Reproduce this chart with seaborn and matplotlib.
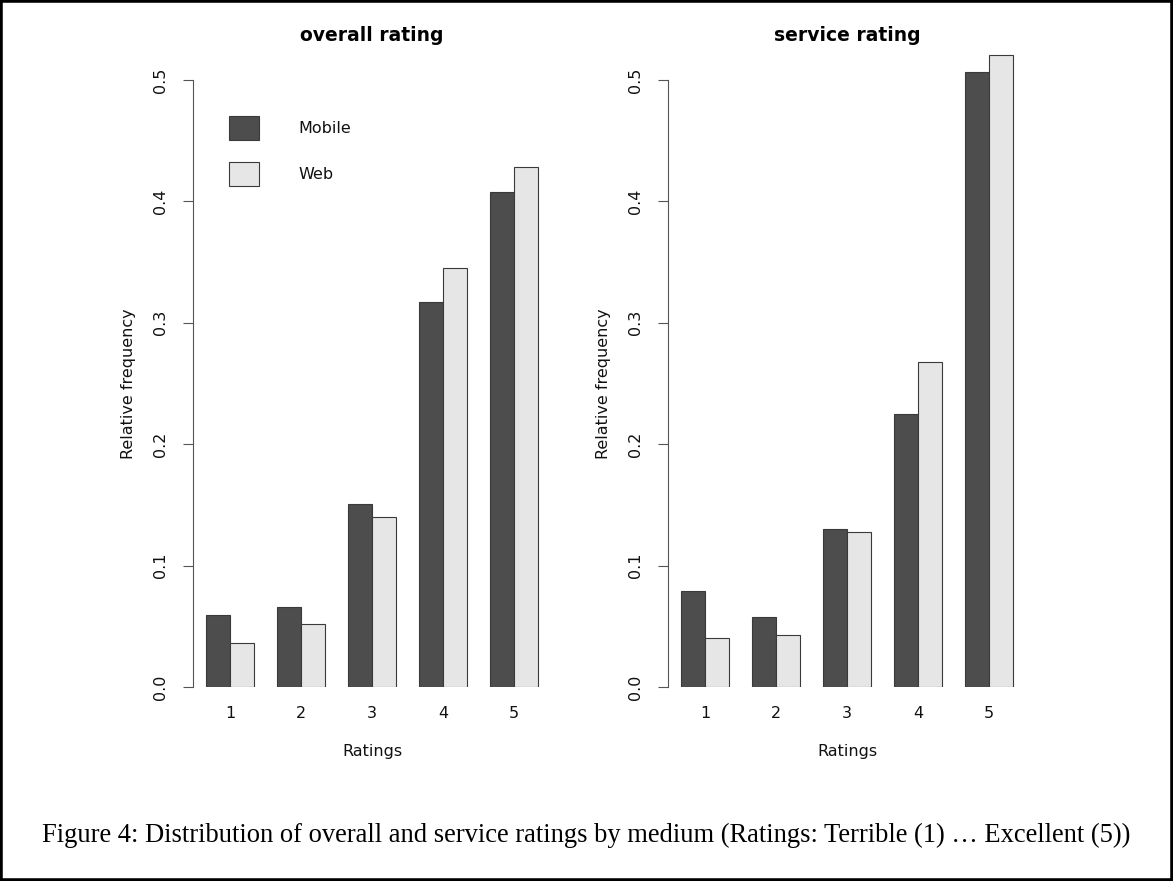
import matplotlib
matplotlib.use("Agg")
import matplotlib.pyplot as plt
import matplotlib.patches as mpatches
import pandas as pd
import seaborn as sns

# data
ratings = ["1", "2", "3", "4", "5"]
media = ["Mobile", "Web"]
overall_mobile = [0.059, 0.066, 0.151, 0.317, 0.408]
overall_web = [0.036, 0.052, 0.140, 0.345, 0.428]
service_mobile = [0.079, 0.058, 0.130, 0.225, 0.507]
service_web = [0.040, 0.043, 0.128, 0.268, 0.521]
panel_titles = ["overall rating", "service rating"]
caption = ("Figure 4: Distribution of overall and service ratings by medium "
           "(Ratings: Terrible (1) \u2026 Excellent (5))")

colors = {"Mobile": "#4d4d4d", "Web": "#e6e6e6"}


def to_frame(mobile, web):
    rows = []
    for r, m, w in zip(ratings, mobile, web):
        rows.append({"rating": r, "medium": "Mobile", "value": m})
        rows.append({"rating": r, "medium": "Web", "value": w})
    return pd.DataFrame(rows)


sns.set_style("white")
plt.rcParams["font.family"] = ["DejaVu Sans"]

W, H = 1173, 881
fs = 11.5
fig = plt.figure(figsize=(W / 100, H / 100), dpi=100)

ymax = 0.53
px_per_unit = 1214  # pixels per 1.0 on the y axis
y0_px = 687
ax_h = ymax * px_per_unit / H
ax_bottom = (H - y0_px) / H

panels = [
    (to_frame(overall_mobile, overall_web), 193),
    (to_frame(service_mobile, service_web), 668),
]

axes = []
for (df, left_px), title in zip(panels, panel_titles):
    ax = fig.add_axes([left_px / W, ax_bottom, 358 / W, ax_h])
    sns.barplot(data=df, x="rating", y="value", hue="medium", order=ratings,
                hue_order=media, palette=colors, width=2 / 3, gap=0,
                edgecolor="#3a3a3a", linewidth=0.8, errorbar=None,
                legend=False, ax=ax)
    ax.set_xlim(-0.52, 4.52)
    ax.set_ylim(0, ymax)
    ax.set_yticks([0, 0.1, 0.2, 0.3, 0.4, 0.5])
    ax.set_yticklabels(["0.0", "0.1", "0.2", "0.3", "0.4", "0.5"])
    for lab in ax.get_yticklabels():
        lab.set_rotation(90)
        lab.set_va("center")
    ax.tick_params(axis="y", length=7, width=0.8, color="#555555",
                   pad=11, labelsize=fs, left=True, labelcolor="#111111")
    ax.tick_params(axis="x", length=0, pad=14, labelsize=fs,
                   labelcolor="#111111")
    for s in ["top", "right", "bottom"]:
        ax.spines[s].set_visible(False)
    ax.spines["left"].set_bounds(0, 0.5)
    ax.spines["left"].set_color("#555555")
    ax.spines["left"].set_linewidth(0.8)
    ax.set_xlabel("Ratings", fontsize=fs, labelpad=16, color="#111111")
    ax.set_ylabel("Relative frequency", fontsize=fs, labelpad=12,
                  color="#111111")
    ax.yaxis.label.set_y(0.25 / ymax)
    ax.set_title(title, fontsize=13.5, fontweight="bold", color="black")
    axes.append(ax)

# put titles where the reference has them
for ax in axes:
    ax.title.set_y((H - 40 - ax_bottom * H) / (ax_h * H))
    ax.title.set_va("center")

handles = [mpatches.Patch(facecolor=colors[m], edgecolor="#3a3a3a",
                          linewidth=0.8, label=m) for m in media]
axes[0].legend(handles=handles, loc="upper left", frameon=False,
               bbox_to_anchor=(229 / W, 1 - 116 / H),
               bbox_transform=fig.transFigure, borderpad=0, borderaxespad=0,
               handlelength=1.88, handleheight=1.93, handletextpad=2.45,
               labelspacing=1.38, fontsize=fs, labelcolor="#111111")

fig.text(0.5, 1 - 835 / H, caption, ha="center", va="center",
         fontsize=19.1, family="Liberation Serif", color="black")

fig.patches.append(mpatches.Rectangle((0, 0), 1, 1, transform=fig.transFigure,
                                      fill=False, edgecolor="black",
                                      linewidth=4, figure=fig))

fig.savefig("out.png", dpi=100)
